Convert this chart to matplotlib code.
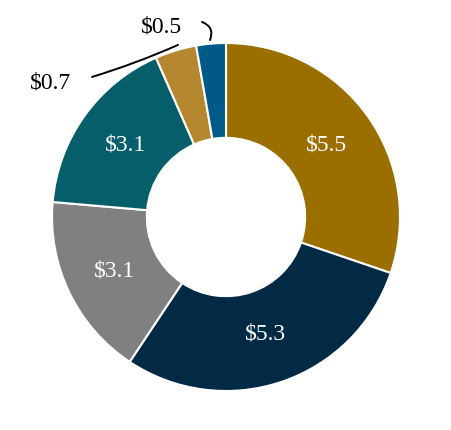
import matplotlib.pyplot as plt

values = [5.5, 5.3, 3.1, 3.1, 0.7, 0.5]
colors = ['#9b6e00', '#022a44', '#808080', '#075e6b', '#b5882f', '#005a87']
small_labels = ['$0.7', '$0.5']

plt.rcParams['font.family'] = ['Liberation Serif', 'DejaVu Serif']

fig = plt.figure(figsize=(4.52, 4.30), dpi=100)
ax = fig.add_axes([0, 0, 1, 1])

total = sum(values)


def fmt(pct):
    v = pct * total / 100
    if v < 1:
        return ''
    return '\\$%.1f' % v


wedges, _, autotexts = ax.pie(
    values, colors=colors, startangle=90, counterclock=False,
    radius=1.0, autopct=fmt, pctdistance=0.71,
    wedgeprops=dict(width=0.545, edgecolor='white', linewidth=1.5),
    textprops=dict(color='white', fontsize=17),
)

# leader labels for the two small slices
ax.text(-1.011, 0.77, small_labels[0], fontsize=17, ha='center', va='center')
ax.annotate('', xy=(-0.276, 0.989), xytext=(-0.770, 0.805),
            arrowprops=dict(arrowstyle='-', color='black', lw=1.4,
                            shrinkA=0, shrinkB=0,
                            connectionstyle='arc3,rad=0.03'))
ax.text(-0.368, 1.092, small_labels[1], fontsize=17, ha='center', va='center')
ax.annotate('', xy=(-0.092, 1.017), xytext=(-0.138, 1.121),
            arrowprops=dict(arrowstyle='-', color='black', lw=1.4,
                            shrinkA=0, shrinkB=0,
                            connectionstyle='arc3,rad=-0.5'))

ax.set_xlim(-1.299, 1.299)
ax.set_ylim(-1.224, 1.247)
ax.axis('off')

fig.savefig('out.png', dpi=100)
